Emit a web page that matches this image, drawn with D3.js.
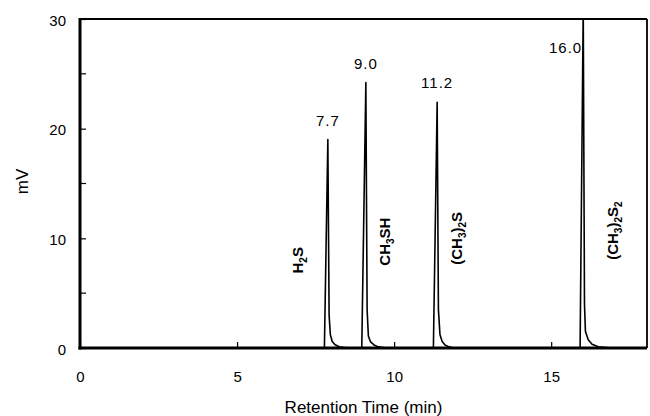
<!DOCTYPE html>
<html>
<head>
<meta charset="utf-8">
<script src="https://cdn.jsdelivr.net/npm/d3@7"></script>
<style>
  body { margin: 0; background: #fff; }
  svg text { font-family: "Liberation Sans", Arial, sans-serif; fill: #000; }
</style>
</head>
<body>
<svg id="chart"></svg>
<script>
const WIDTH = 650;
const HEIGHT = 416;
const MARGINS = {top: 19, bottom: 68, left: 80, right: 3};

// retention time (min), signal (mV)
const peakH2S = [[7.78, 0], [7.89, 19.0], [7.93, 3.0], [7.97, 1.2], [8.03, 0.6], [8.12, 0.3], [8.25, 0.12], [8.45, 0.03], [8.6, 0]];
const peakCH3SH = [[8.97, 0], [9.10, 24.2], [9.14, 3.5], [9.18, 1.1], [9.25, 0.55], [9.36, 0.28], [9.5, 0.1], [9.7, 0.02], [9.8, 0]];
const peakDMS = [[11.25, 0], [11.37, 22.4], [11.41, 3.5], [11.46, 1.2], [11.53, 0.6], [11.62, 0.28], [11.75, 0.1], [11.9, 0]];
const peakDMDS = [[15.92, 0], [16.02, 31], [16.06, 4.0], [16.09, 1.5], [16.18, 0.75], [16.3, 0.35], [16.5, 0.12], [16.85, 0.02], [17.0, 0]];

const peakTimes = ["7.7", "9.0", "11.2", "16.0"];
const xTicks = [0, 5, 10, 15];
const yTicks = [0, 10, 20, 30];
const yMinorTicks = [5, 15, 25];

let svg = d3.select('#chart')
  .attr('width', WIDTH)
  .attr('height', HEIGHT);

const x = d3.scaleLinear().domain([0, 18.05]).range([MARGINS.left, WIDTH - MARGINS.right]);
const y = d3.scaleLinear().domain([0, 30]).range([HEIGHT - MARGINS.bottom, MARGINS.top]);

// whole trace = baseline + peaks
let trace = [[0, 0]].concat(peakH2S, peakCH3SH, peakDMS, peakDMDS, [[18.05, 0]]);

svg.append('clipPath').attr('id', 'clip')
  .append('rect')
  .attr('x', x(0)).attr('y', y(30))
  .attr('width', x(18.05) - x(0)).attr('height', y(0) - y(30));

const line = d3.line().x(d => x(d[0])).y(d => y(d[1]));

svg.append('path')
  .datum(trace)
  .attr('clip-path', 'url(#clip)')
  .attr('d', line)
  .style('fill', 'none')
  .style('stroke', '#000')
  .style('stroke-width', 1.6)
  .style('stroke-linejoin', 'round');

// frame: thin top and right, heavy left and bottom
svg.append('line')
  .attr('x1', x(0)).attr('x2', x(18.05)).attr('y1', y(30)).attr('y2', y(30))
  .style('stroke', '#000').style('stroke-width', 1.8);
svg.append('line')
  .attr('x1', x(18.05)).attr('x2', x(18.05)).attr('y1', y(30)).attr('y2', y(0))
  .style('stroke', '#000').style('stroke-width', 1.8);

// axes, ticks pointing inward
let xAxis = d3.axisBottom(x).tickValues(xTicks).tickSizeInner(-6).tickSizeOuter(0).tickPadding(23);
let yAxis = d3.axisLeft(y).tickValues(yTicks).tickSizeInner(-6).tickSizeOuter(0).tickPadding(14);

let gx = svg.append('g').attr('transform', `translate(0, ${y(0)})`).call(xAxis);
let gy = svg.append('g').attr('transform', `translate(${x(0)}, 0)`).call(yAxis);

[gx, gy].forEach(g => {
  g.select('.domain').style('stroke', '#000').style('stroke-width', 3);
  g.selectAll('.tick line').style('stroke', '#000').style('stroke-width', 1.2);
  g.selectAll('.tick text').style('font-size', '15px');
});
gx.select('.domain').attr('d', `M${x(0) - 1.5},0H${x(18.05)}`);
gy.select('.domain').attr('d', `M0,${y(30) - 1}V${y(0) + 1.5}`);
gy.selectAll('.tick text').attr('dy', '0.4em');

// minor y ticks
gy.selectAll('line.minor')
  .data(yMinorTicks)
  .enter()
  .append('line')
  .attr('class', 'minor')
  .attr('x1', 0).attr('x2', 6)
  .attr('y1', d => y(d)).attr('y2', d => y(d))
  .style('stroke', '#000').style('stroke-width', 1.2);

// axis titles
svg.append('text')
  .attr('x', (x(0) + x(18.05)) / 2)
  .attr('y', 413)
  .style('text-anchor', 'middle')
  .style('font-size', '17px')
  .text('Retention Time (min)');

svg.append('text')
  .attr('transform', `translate(28, ${(y(0) + y(30)) / 2 - 2}) rotate(-90)`)
  .style('text-anchor', 'middle')
  .style('font-size', '17px')
  .text('mV');

// retention time labels over the peaks
let peaks = [peakH2S, peakCH3SH, peakDMS, peakDMDS];
let tops = peaks.map(p => p[1]);
tops.forEach((top, i) => {
  let last = i === 3;
  svg.append('text')
    .attr('x', last ? x(top[0]) - 1 : x(top[0]))
    .attr('y', last ? 53 : y(top[1]) - 14)
    .style('text-anchor', last ? 'end' : 'middle')
    .style('font-size', '15px')
    .style('letter-spacing', '1px')
    .text(peakTimes[i]);
});

// compound names, rotated, with subscripts
const compounds = [
  {t: 7.1, v: 8.0, parts: [['H', false], ['2', true], ['S', false]]},
  {t: 9.87, v: 9.7, parts: [['CH', false], ['3', true], ['SH', false]]},
  {t: 12.17, v: 10.0, parts: [['(CH', false], ['3', true], [')', false], ['2', true], ['S', false]]},
  {t: 17.13, v: 10.7, parts: [['(CH', false], ['3', true], [')', false], ['2', true], ['S', false], ['2', true]]}
];

compounds.forEach(c => {
  let t = svg.append('text')
    .attr('transform', `translate(${x(c.t)}, ${y(c.v)}) rotate(-90)`)
    .style('text-anchor', 'middle')
    .style('font-size', '15px')
    .style('font-weight', 'bold');
  let prevSub = false;
  c.parts.forEach(p => {
    let dy = p[1] === prevSub ? 0 : (p[1] ? 4 : -4);
    t.append('tspan')
      .attr('dy', dy)
      .style('font-size', p[1] ? '10px' : '15px')
      .text(p[0]);
    prevSub = p[1];
  });
});
</script>
</body>
</html>
